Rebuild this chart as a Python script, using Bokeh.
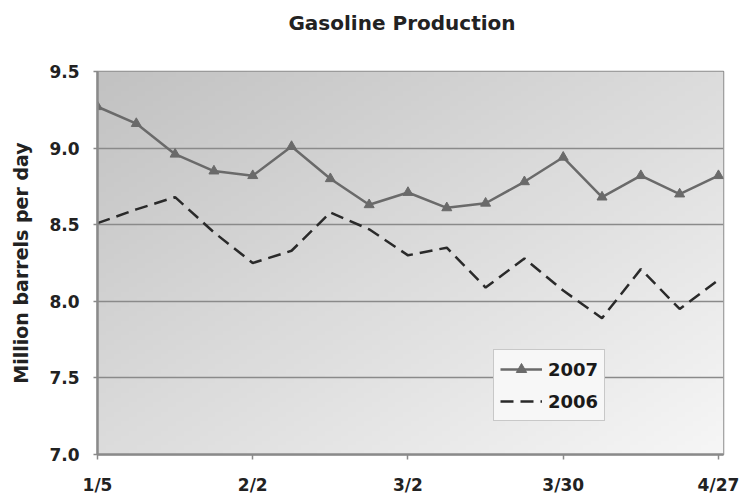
import numpy as np
from bokeh.plotting import figure
from bokeh.layouts import column
from bokeh.models import (Range1d, FixedTicker, Legend, LegendItem,
                          NumeralTickFormatter, Div)
from bokeh.embed import file_html
from bokeh.resources import INLINE

# Weekly gasoline production, million barrels per day (week index 0 = 1/5)
weeks = list(range(17))
prod_2007 = [9.27, 9.16, 8.96, 8.85, 8.82, 9.01, 8.80, 8.63, 8.71, 8.61,
             8.64, 8.78, 8.94, 8.68, 8.82, 8.70, 8.82]
prod_2006 = [8.51, 8.60, 8.68, 8.45, 8.25, 8.33, 8.58, 8.47, 8.30, 8.35,
             8.09, 8.28, 8.07, 7.89, 8.21, 7.95, 8.14]
tick_weeks = [0, 4, 8, 12, 16]
tick_labels = ["1/5", "2/2", "3/2", "3/30", "4/27"]
y_ticks = [7.0, 7.5, 8.0, 8.5, 9.0, 9.5]
title_text = "Gasoline Production"

FONT = "DejaVu Sans"
TITLE_H = 46

x_lo, x_hi = 0, 16.13
y_lo, y_hi = 7.0, 9.5

# Title strip above the chart
header = Div(text=title_text, width=741, height=TITLE_H,
             styles={"font-family": FONT, "font-size": "20px",
                     "font-weight": "bold", "color": "#222222",
                     "text-align": "center", "line-height": f"{TITLE_H}px",
                     "padding-left": "63px", "box-sizing": "border-box",
                     "width": "741px", "margin": "0"})

p = figure(width=741, height=497 - TITLE_H, output_backend="svg",
           toolbar_location=None,
           x_range=Range1d(x_lo, x_hi), y_range=Range1d(y_lo, y_hi),
           min_border_left=97, min_border_right=18, min_border_top=71 - TITLE_H,
           min_border_bottom=43, background_fill_color="white",
           border_fill_color="white")

# Diagonal grey gradient behind the data
n = 80
u = np.linspace(0, 1, n)[None, :]          # left -> right
w = np.linspace(0, 1, n)[:, None]          # bottom -> top
shade = (246 - 52 * ((1 - u) + w) / 2).astype(np.uint32)
img = (255 << 24) | (shade << 16) | (shade << 8) | shade
p.image_rgba(image=[img.view(np.uint32)], x=x_lo, y=y_lo, dw=x_hi - x_lo,
             dh=y_hi - y_lo, level="image")

p.outline_line_color = "#8c8c8c"
p.outline_line_width = 1.5

# Grid
p.xgrid.visible = False
p.ygrid.ticker = FixedTicker(ticks=y_ticks)
p.ygrid.grid_line_color = "#8a8a8a"
p.ygrid.grid_line_width = 1.5

# Axes
for ax in (p.xaxis[0], p.yaxis[0]):
    ax.axis_line_color = "#8a8a8a"
    ax.axis_line_width = 2.5
    ax.major_tick_line_color = "#8a8a8a"
    ax.major_tick_line_width = 1.5
    ax.major_tick_in = 0
    ax.major_tick_out = 5
    ax.minor_tick_line_color = None
    ax.major_label_text_font = FONT
    ax.major_label_text_font_size = "17px"
    ax.major_label_text_font_style = "bold"
    ax.major_label_text_color = "#222222"

p.xaxis.ticker = FixedTicker(ticks=tick_weeks)
p.xaxis.major_label_overrides = {t: s for t, s in zip(tick_weeks, tick_labels)}
p.xaxis.major_label_standoff = 15

p.yaxis.ticker = FixedTicker(ticks=y_ticks)
p.yaxis.formatter = NumeralTickFormatter(format="0.0")
p.yaxis.major_label_standoff = 14
p.yaxis.major_tick_out = 4
p.yaxis.axis_label = "Million barrels per day"
p.yaxis.axis_label_text_font = FONT
p.yaxis.axis_label_text_font_size = "19px"
p.yaxis.axis_label_text_font_style = "bold"
p.yaxis.axis_label_text_color = "#222222"
p.yaxis.axis_label_standoff = 14

# Series
l07 = p.line(weeks, prod_2007, line_color="#6a6a6a", line_width=2.5)
m07 = p.scatter(weeks, prod_2007, marker="triangle", size=10,
                fill_color="#6a6a6a", line_color="#6a6a6a")
l06 = p.line(weeks, prod_2006, line_color="#2a2a2a", line_width=2.5,
             line_dash="13 7")

legend = Legend(items=[LegendItem(label="2007", renderers=[l07, m07]),
                       LegendItem(label="2006", renderers=[l06])],
                location=(396, 33))
legend.background_fill_color = "#f7f7f7"
legend.background_fill_alpha = 1.0
legend.border_line_color = "#9a9a9a"
legend.border_line_width = 1.5
legend.label_text_font = FONT
legend.label_text_font_size = "18px"
legend.label_text_font_style = "bold"
legend.label_text_color = "#1a1a1a"
legend.glyph_width = 42
legend.glyph_height = 26
legend.spacing = 6
legend.padding = 6
legend.margin = 0
legend.label_standoff = 6
p.add_layout(legend, "center")

layout = column(header, p, spacing=0)
open("out.html", "w").write(file_html(layout, INLINE))
